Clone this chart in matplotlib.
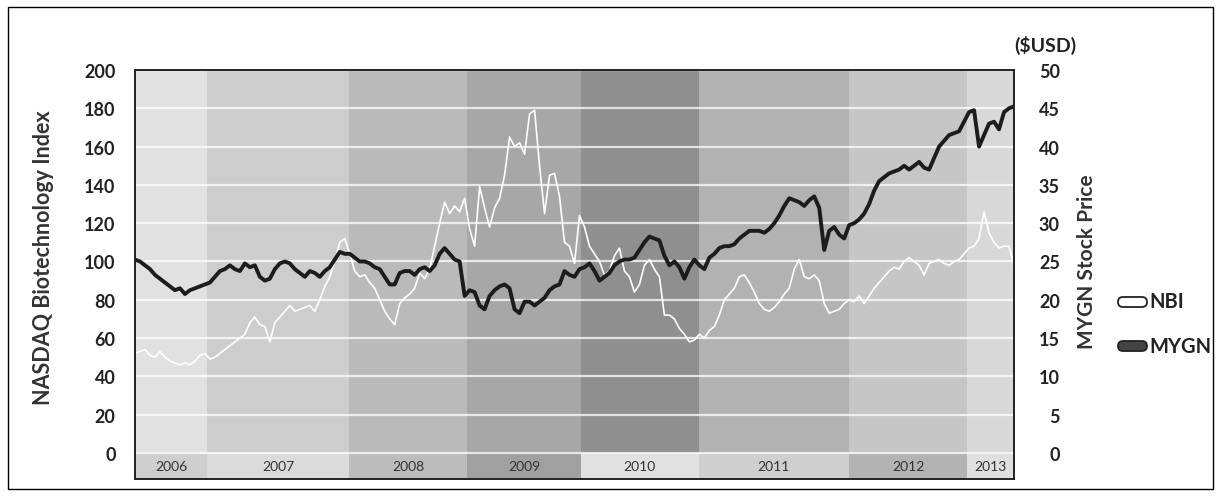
import numpy as np
import matplotlib
matplotlib.use("Agg")
import matplotlib.pyplot as plt
from matplotlib.patches import Rectangle, FancyBboxPatch

plt.rcParams['font.family'] = ['Lato', 'DejaVu Sans']

# values, evenly spaced in time, left-axis units
nbi = [52, 53, 54, 51, 50, 53, 50, 48, 47, 46, 47, 46, 48, 51, 52, 49, 50, 52, 54, 56,
       58, 60, 62, 68, 71, 67, 66, 58, 68, 71, 74, 77, 74, 75, 76, 77, 74, 80, 87, 92,
       100, 110, 112, 104, 95, 92, 93, 89, 86, 80, 74, 70, 67, 78, 81, 83, 86, 94, 91, 96,
       108, 120, 131, 125, 129, 126, 133, 117, 108, 139, 128, 118, 128, 133, 145, 165, 160, 162, 156, 177,
       179, 150, 125, 145, 146, 134, 110, 108, 99, 124, 118, 108, 104, 100, 93, 95, 103, 107, 95, 92,
       84, 88, 98, 101, 96, 92, 72, 72, 70, 65, 62, 58, 59, 62, 60, 64, 66, 72, 80, 83,
       86, 92, 93, 89, 84, 78, 75, 74, 76, 79, 83, 86, 96, 101, 92, 91, 93, 90, 78, 73,
       74, 75, 78, 80, 79, 82, 78, 82, 86, 89, 92, 95, 97, 96, 100, 102, 100, 98, 93, 99,
       100, 101, 99, 98, 100, 101, 104, 107, 108, 112, 126, 115, 110, 107, 108, 108, 98]

mygn = [101, 100, 98, 96, 93, 91, 89, 87, 85, 86, 83, 85, 86, 87, 88, 89, 92, 95, 96, 98,
        96, 95, 99, 97, 98, 92, 90, 91, 96, 99, 100, 99, 96, 94, 92, 95, 94, 92, 95, 97,
        101, 105, 104, 104, 102, 100, 100, 99, 97, 96, 92, 88, 88, 94, 95, 95, 93, 96, 97, 95,
        98, 104, 107, 104, 101, 100, 82, 85, 84, 77, 75, 82, 85, 87, 88, 86, 75, 73, 79, 79,
        77, 79, 81, 85, 87, 88, 95, 93, 92, 96, 97, 99, 95, 90, 92, 94, 98, 100, 101, 101,
        102, 106, 110, 113, 112, 111, 103, 98, 100, 97, 91, 97, 101, 98, 96, 102, 104, 107, 108, 108,
        109, 112, 114, 116, 116, 116, 115, 117, 120, 124, 129, 133, 132, 131, 129, 132, 134, 128, 106, 116,
        118, 114, 112, 119, 120, 122, 125, 130, 137, 142, 144, 146, 147, 148, 150, 148, 150, 152, 149, 148,
        154, 160, 163, 166, 167, 168, 173, 178, 179, 160, 166, 172, 173, 169, 178, 180, 181]

dates = np.linspace(2006.0, 2013.3, len(nbi))

years = ['2006', '2007', '2008', '2009', '2010', '2011', '2012', '2013']
band_edges = [2006.0, 2006.60, 2007.78, 2008.76, 2009.70, 2010.68, 2011.93, 2012.91, 2013.3]
band_colors = ['#e1e1e1', '#cdcdcd', '#bababa', '#a7a7a7', '#8f8f8f', '#b2b2b2', '#c6c6c6', '#d8d8d8']
strip_colors = ['#cecece', '#dbdbdb', '#bcbcbc', '#a0a0a0', '#e1e1e1', '#cfcfcf', '#b3b3b3', '#dfdfdf']

left_ticks = list(range(0, 201, 20))
right_ticks = list(range(0, 51, 5))

fig = plt.figure(figsize=(12.22, 5.02), dpi=100)
ax = fig.add_axes([135 / 1222, 22 / 502, 879 / 1222, 409 / 502])

ymin = -13.6
for i in range(len(years)):
    x0, x1 = band_edges[i], band_edges[i + 1]
    ax.add_patch(Rectangle((x0, 0), x1 - x0, 200, facecolor=band_colors[i],
                           edgecolor='none', zorder=0.2))
    ax.add_patch(Rectangle((x0, ymin), x1 - x0, -ymin, facecolor=strip_colors[i],
                           edgecolor='none', zorder=0.2))
    ax.text((x0 + x1) / 2, ymin / 2, years[i], ha='center', va='center',
            fontsize=10, color='#333333', zorder=3)

ax.set_axisbelow(True)
ax.grid(axis='y', color='white', lw=1.6, alpha=0.75)
ax.grid(axis='x', visible=False)

ax.plot(dates, nbi, color='white', lw=1.2, zorder=2, label='NBI')
ax.plot(dates, mygn, color='#1c1c1c', lw=2.8, zorder=2.5, label='MYGN')

ax.set_xlim(band_edges[0], band_edges[-1])
ax.set_ylim(ymin, 200)
ax.set_xticks([])
ax.set_yticks(left_ticks)
ax.tick_params(axis='y', length=0, pad=14, labelsize=13, labelcolor='#222222')
for lab in ax.get_yticklabels():
    lab.set_fontweight('bold')
for s in ax.spines.values():
    s.set_linewidth(1.4)
    s.set_color('#222222')

ax2 = ax.twinx()
ax2.set_ylim(ymin / 4, 50)
ax2.set_yticks(right_ticks)
ax2.tick_params(axis='y', length=0, pad=33, labelsize=13, labelcolor='#222222')
for lab in ax2.get_yticklabels():
    lab.set_fontweight('bold')
    lab.set_horizontalalignment('right')
for s in ax2.spines.values():
    s.set_visible(False)

fig.text(44 / 1222, 1 - 258 / 502, 'NASDAQ Biotechnology Index', rotation=90,
         ha='center', va='center', fontsize=15.5, fontweight='bold', color='#333333')
fig.text(1087 / 1222, 1 - 262 / 502, 'MYGN Stock Price', rotation=90,
         ha='center', va='center', fontsize=15, fontweight='bold', color='#333333')
fig.text(1045 / 1222, 1 - 45 / 502, '($USD)', ha='center', va='center',
         fontsize=14, fontweight='bold', color='#222222')

# legend, drawn in inches so the rounded ends stay round
inch = fig.dpi_scale_trans
fig.patches.append(FancyBboxPatch((11.18, (502 - 308) / 100), 0.29, 0.10,
                                  boxstyle='round,pad=0,rounding_size=0.05',
                                  transform=inch, facecolor='white',
                                  edgecolor='#222222', lw=1.3))
fig.patches.append(FancyBboxPatch((11.18, (502 - 352) / 100), 0.29, 0.10,
                                  boxstyle='round,pad=0,rounding_size=0.05',
                                  transform=inch, facecolor='#444444',
                                  edgecolor='#222222', lw=1.3))
fig.text(1149 / 1222, 1 - 302 / 502, 'NBI', ha='left', va='center', fontsize=14.5,
         fontweight='bold', color='#222222')
fig.text(1149 / 1222, 1 - 347 / 502, 'MYGN', ha='left', va='center', fontsize=14.5,
         fontweight='bold', color='#222222')

fig.patches.append(Rectangle((8 / 1222, 1 - 490 / 502), 1205 / 1222, 482 / 502,
                             transform=fig.transFigure, fill=False,
                             edgecolor='black', lw=1.0))

fig.savefig('out.png', dpi=100)
